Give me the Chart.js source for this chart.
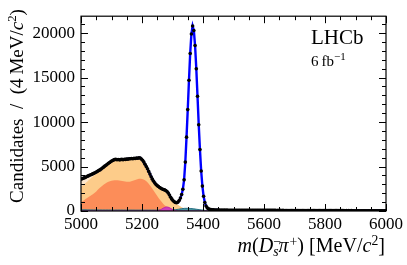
<!DOCTYPE html>
<html>
<head>
<meta charset="utf-8">
<script src="https://cdn.jsdelivr.net/npm/chart.js@4.4.1/dist/chart.umd.min.js"></script>
<style>
  html, body { margin: 0; padding: 0; background: #fff; }
  canvas { display: block; }
</style>
</head>
<body>
<canvas id="graph" width="407" height="265"></canvas>
<script>
// binning of the data histogram (4 MeV bins from 5000 to 6000)
const massLow = 5000;
const binWidth = 4;

// candidates per bin
const dataCounts = [
  3600, 3650, 3720, 3780, 3850, 3920, 3980, 4050, 4100, 4170,
  4230, 4300, 4380, 4460, 4540, 4620, 4720, 4830, 4930, 5050,
  5150, 5260, 5360, 5460, 5560, 5650, 5720, 5780, 5800, 5760,
  5790, 5750, 5780, 5800, 5760, 5820, 5800, 5850, 5830, 5880,
  5870, 5900, 5870, 5920, 5900, 5950, 5930, 5980, 5960, 5850,
  5700, 5500, 5250, 5000, 4750, 4450, 4150, 3850, 3580, 3350,
  3150, 2980, 2850, 2750, 2650, 2560, 2480, 2420, 2370, 2300,
  2200, 2020, 1800, 1550, 1330,
  1160, 1030, 950, 930, 1000, 1180, 1450, 1850, 2450, 3500,
  5500, 8300, 11400, 14700, 17700, 19900, 20800, 20300, 18600, 16000,
  12900, 9700, 6900, 4500, 2800, 1650, 950, 560, 350, 240,
  190, 160, 140, 130, 120, 110, 105, 100,
  96, 92, 99, 90, 94, 88, 93, 91, 86, 90,
  87, 84, 89, 83, 86, 81, 85, 80, 83, 79,
  82, 78, 81, 76, 80, 75, 78, 74, 77, 73,
  76, 72, 75, 71, 74, 70, 73, 69, 72, 68,
  71, 67, 70, 66, 69, 65, 68, 64, 67, 63,
  66, 62, 65, 61, 64, 60, 63, 59, 62, 58,
  61, 57, 60, 56, 59, 55, 58, 54, 57, 53,
  56, 52, 55, 51, 54, 50, 53, 49, 52, 48,
  51, 47, 50, 46, 49, 45, 48, 44, 47, 43,
  46, 42, 45, 41, 44, 40, 43, 39, 42, 38,
  41, 37, 40, 36, 39, 35, 38, 34, 37, 33,
  36, 32, 35, 31, 34, 30, 33, 29, 32, 28,
  31, 27, 30, 26, 29, 25, 28, 24, 27, 23,
  26, 22, 25, 21, 24, 20, 23
];

// mass grid for the background components
const compMass = [
  5000, 5010, 5020, 5030, 5040, 5050, 5060, 5070, 5080, 5090,
  5100, 5110, 5120, 5130, 5140, 5150, 5160, 5170, 5180, 5190,
  5200, 5210, 5220, 5230, 5240, 5250, 5260, 5270, 5280, 5290,
  5300, 5310, 5320, 5330, 5340, 5350, 5360, 5370, 5380, 5390,
  5400, 5410, 5420, 5430, 5440
];

// stacked tops of the components (already cumulative)
const creamTop = [
  3550, 3700, 3850, 4020, 4200, 4380, 4600, 4850, 5080, 5300,
  5550, 5720, 5740, 5730, 5750, 5790, 5830, 5850, 5880, 5920,
  5750, 5220, 4500, 3800, 3200, 2800, 2520, 2380, 2250, 1750,
  1150, 850, 650, 420, 250, 140, 80, 40, 15, 0,
  0, 0, 0, 0, 0
];
const lightOrangeTop = [
  2700, 3000, 3300, 3600, 3900, 4200, 4500, 4800, 5050, 5300,
  5550, 5720, 5740, 5730, 5750, 5790, 5830, 5850, 5880, 5920,
  5750, 5220, 4500, 3800, 3200, 2800, 2520, 2380, 2250, 1750,
  1150, 850, 650, 420, 250, 140, 80, 40, 15, 0,
  0, 0, 0, 0, 0
];
const orangeTop = [
  1000, 1200, 1450, 1680, 1900, 2200, 2550, 2850, 3100, 3300,
  3400, 3450, 3450, 3400, 3350, 3300, 3300, 3400, 3500, 3620,
  3600, 3450, 3150, 2700, 2200, 1700, 1200, 800, 500, 330,
  250, 200, 150, 110, 80, 50, 30, 15, 5, 0,
  0, 0, 0, 0, 0
];
const tealComp = [
  130, 130, 125, 125, 120, 120, 120, 115, 115, 115,
  110, 110, 110, 110, 105, 105, 105, 105, 100, 100,
  100, 100, 100, 100, 100, 100, 105, 110, 115, 120,
  130, 150, 200, 260, 300, 300, 280, 240, 190, 140,
  100, 60, 30, 10, 0
];
const magentaComp = [
  0, 0, 0, 0, 0, 0, 0, 0, 0, 0,
  0, 0, 0, 0, 0, 0, 0, 0, 0, 0,
  0, 0, 0, 0, 0, 20, 120, 330, 450, 380,
  150, 30, 0, 0, 0, 0, 0, 0, 0, 0,
  0, 0, 0, 0, 0
];

// axis ticks
const xTickValues = [5000, 5200, 5400, 5600, 5800, 6000];
const yTickValues = [0, 5000, 10000, 15000, 20000];
const xMinorStep = 50, yMinorStep = 1000;
const yMax = 21900;

const serif = '"Liberation Serif", "DejaVu Serif", serif';

function toPoints(xs, ys) {
  return ys.map((v, i) => ({ x: xs[i], y: v }));
}
const binCentres = dataCounts.map((v, i) => massLow + binWidth * (i + 0.5));

// draws a row of text pieces with own fonts/offsets, returns width
function richText(ctx, parts, x0, y0, measureOnly) {
  let cx = x0;
  for (const p of parts) {
    ctx.font = p.f;
    if (!measureOnly) ctx.fillText(p.t, cx, y0 + (p.dy || 0));
    if (p.adv !== false) cx += ctx.measureText(p.t).width + (p.gap || 0);
  }
  return cx - x0;
}

function withSize(parts, size) {
  return parts.map(p => Object.assign({}, p, { f: p.f.replace('SZ', Math.round(size * (p.k || 1) * 10) / 10 + 'px') }));
}

const xTitleParts = [
  { t: 'm', f: 'italic SZ ' + serif },
  { t: '(', f: 'SZ ' + serif },
  { t: 'D', f: 'italic SZ ' + serif },
  { t: '\u2212', f: 'SZ ' + serif, k: 0.68, dy: -6, adv: false },
  { t: 's', f: 'italic SZ ' + serif, k: 0.68, dy: 4 },
  { t: '\u03c0', f: 'italic SZ ' + serif, gap: 1 },
  { t: '+', f: 'SZ ' + serif, k: 0.68, dy: -6 },
  { t: ')', f: 'SZ ' + serif },
  { t: ' [MeV/', f: 'SZ ' + serif },
  { t: 'c', f: 'italic SZ ' + serif },
  { t: '2', f: 'SZ ' + serif, k: 0.68, dy: -7 },
  { t: ']', f: 'SZ ' + serif }
];
const yTitleParts = [
  { t: 'Candidates  /  (4\u2009MeV/', f: 'SZ ' + serif },
  { t: 'c', f: 'italic SZ ' + serif },
  { t: '2', f: 'SZ ' + serif, k: 0.68, dy: -7 },
  { t: ')', f: 'SZ ' + serif }
];

const frameAndText = {
  id: 'frameAndText',
  afterDraw(chart) {
    const ctx = chart.ctx;
    const a = chart.chartArea;
    const xs = chart.scales.x, ys = chart.scales.y;
    ctx.save();
    ctx.strokeStyle = '#000';
    ctx.lineWidth = 1.2;
    ctx.strokeRect(a.left, a.top, a.right - a.left, a.bottom - a.top);

    // inward major and minor ticks on all four sides
    ctx.lineWidth = 1;
    ctx.beginPath();
    for (let m = xs.min; m <= xs.max; m += xMinorStep) {
      const px = Math.round(xs.getPixelForValue(m)) + 0.5;
      const len = xTickValues.includes(m) ? 7 : 4;
      ctx.moveTo(px, a.bottom); ctx.lineTo(px, a.bottom - len);
      ctx.moveTo(px, a.top); ctx.lineTo(px, a.top + len);
    }
    for (let v = 0; v <= ys.max; v += yMinorStep) {
      const py = Math.round(ys.getPixelForValue(v)) + 0.5;
      const len = yTickValues.includes(v) ? 7 : 4;
      ctx.moveTo(a.left, py); ctx.lineTo(a.left + len, py);
      ctx.moveTo(a.right, py); ctx.lineTo(a.right - len, py);
    }
    ctx.stroke();

    ctx.fillStyle = '#000';
    ctx.textBaseline = 'alphabetic';
    ctx.textAlign = 'left';

    // x axis title, right aligned with the frame
    let parts = withSize(xTitleParts, 16);
    let w = richText(ctx, parts, 0, 0, true);
    parts = withSize(xTitleParts, 16 * 148 / w);
    w = richText(ctx, parts, 0, 0, true);
    richText(ctx, parts, 385 - w, 252);

    // y axis title, rotated
    parts = withSize(yTitleParts, 16);
    w = richText(ctx, parts, 0, 0, true);
    parts = withSize(yTitleParts, Math.min(19, 16 * 194 / w));
    w = richText(ctx, parts, 0, 0, true);
    ctx.save();
    ctx.translate(23, 106);
    ctx.rotate(-Math.PI / 2);
    richText(ctx, parts, -w / 2, 0);
    ctx.restore();

    // experiment label
    ctx.font = '21px ' + serif;
    ctx.fillText('LHCb', 311, 44);
    richText(ctx, [
      { t: '6\u2009fb', f: '15px ' + serif },
      { t: '\u22121', f: '11px ' + serif, dy: -6 }
    ], 311, 66);
    ctx.restore();
  }
};

const ctx = document.getElementById('graph').getContext('2d');

new Chart(ctx, {
  type: 'line',
  data: {
    datasets: [
      {
        label: 'Data',
        data: toPoints(binCentres, dataCounts),
        showLine: false,
        pointRadius: 1.8,
        pointBackgroundColor: '#000',
        pointBorderWidth: 0,
        order: 0
      },
      {
        label: 'Total fit',
        data: toPoints(binCentres, dataCounts),
        borderColor: 'rgb(0,0,255)',
        borderWidth: 2.4,
        pointRadius: 0,
        fill: false,
        order: 1
      },
      {
        label: 'magenta',
        data: toPoints(compMass, magentaComp),
        borderColor: 'rgb(190,40,170)',
        backgroundColor: 'rgb(205,60,185)',
        borderWidth: 1,
        pointRadius: 0,
        tension: 0.3,
        fill: 'origin',
        order: 2
      },
      {
        label: 'teal',
        data: toPoints(compMass, tealComp),
        borderColor: 'rgb(40,110,130)',
        backgroundColor: 'rgb(70,150,160)',
        borderWidth: 1,
        pointRadius: 0,
        tension: 0.3,
        fill: 'origin',
        order: 3
      },
      {
        label: 'orange',
        data: toPoints(compMass, orangeTop),
        borderColor: 'rgba(0,0,0,0)',
        backgroundColor: 'rgb(252,141,89)',
        pointRadius: 0,
        tension: 0.3,
        fill: 'origin',
        order: 4
      },
      {
        label: 'light orange',
        data: toPoints(compMass, lightOrangeTop),
        borderColor: 'rgba(0,0,0,0)',
        backgroundColor: 'rgb(253,204,138)',
        pointRadius: 0,
        tension: 0.3,
        fill: 'origin',
        order: 5
      },
      {
        label: 'cream',
        data: toPoints(compMass, creamTop),
        borderColor: 'rgba(0,0,0,0)',
        backgroundColor: 'rgb(254,232,206)',
        pointRadius: 0,
        tension: 0.3,
        fill: 'origin',
        order: 6
      }
    ]
  },
  options: {
    responsive: false,
    animation: false,
    layout: { padding: { top: 6, right: 21, left: 0, bottom: 0 } },
    plugins: {
      legend: { display: false },
      tooltip: { enabled: false }
    },
    scales: {
      x: {
        type: 'linear',
        min: 5000,
        max: 6000,
        grid: { display: false, drawTicks: false },
        border: { display: false },
        ticks: {
          autoSkip: false,
          padding: 3,
          color: '#000',
          maxRotation: 0,
          font: { family: serif, size: 17 },
          callback: v => String(v)
        },
        afterBuildTicks: s => { s.ticks = xTickValues.map(v => ({ value: v })); },
        afterFit: s => { s.height = 54; }
      },
      y: {
        type: 'linear',
        min: 0,
        max: yMax,
        grid: { display: false, drawTicks: false },
        border: { display: false },
        ticks: {
          autoSkip: false,
          padding: 6,
          color: '#000',
          font: { family: serif, size: 17 },
          callback: v => String(v)
        },
        afterBuildTicks: s => { s.ticks = yTickValues.map(v => ({ value: v })); },
        afterFit: s => { s.width = 81; }
      }
    }
  },
  plugins: [frameAndText]
});
</script>
</body>
</html>
